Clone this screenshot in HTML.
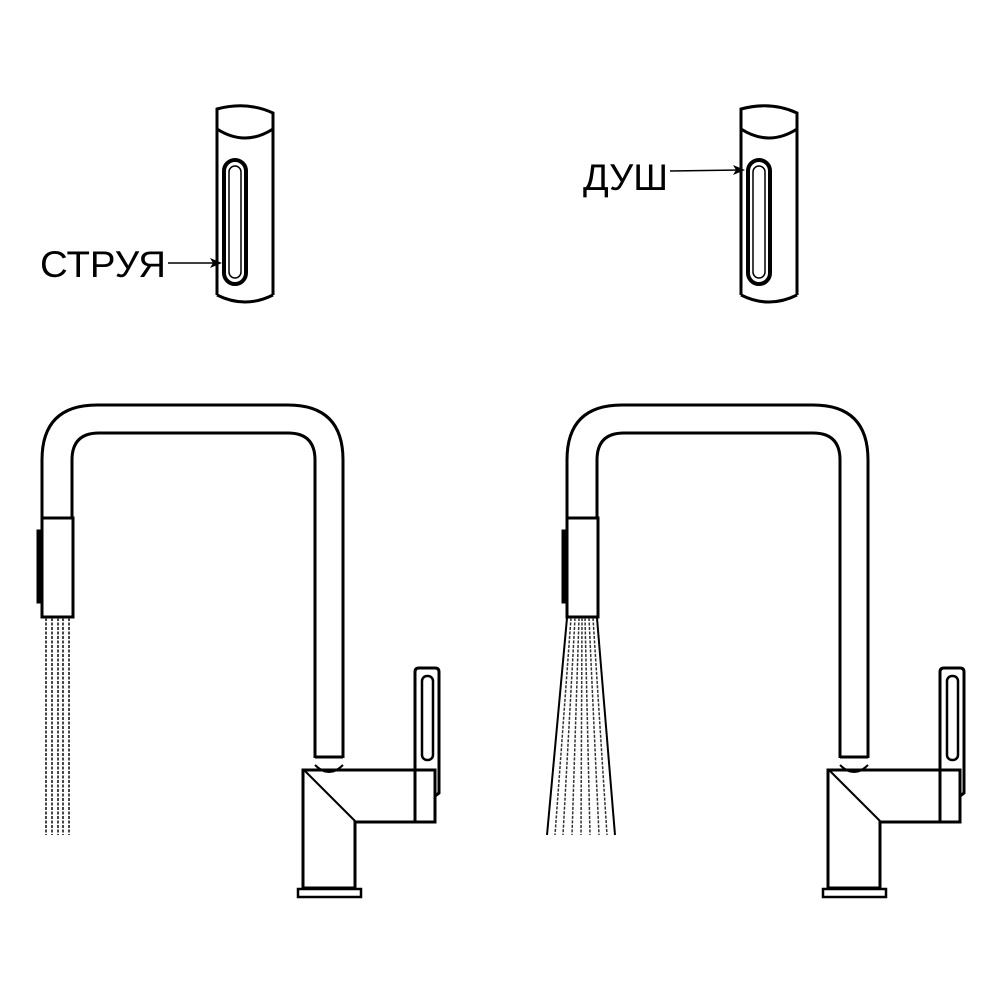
<!DOCTYPE html>
<html><head><meta charset="utf-8"><style>html,body{margin:0;padding:0;background:#fff}svg{display:block}</style></head>
<body>
<svg width="1000" height="1000" viewBox="0 0 1000 1000" xmlns="http://www.w3.org/2000/svg">
<defs>
<g id="faucet" fill="none" stroke="#000" stroke-width="3">
  <path d="M42,518 V460 Q42,405 97,405 H288 Q343,405 343,460 V758"/>
  <path d="M72,518 V460 Q72,433 99,433 H288 Q315,433 315,460 V758"/>
  <line x1="315" y1="757" x2="343" y2="757"/>
  <path d="M315,765 Q329,779 343,765" stroke-width="2"/>
  <rect x="42" y="518" width="31" height="99" fill="#fff"/>
  <rect x="37" y="530" width="5" height="73" fill="#000" stroke-width="1"/>
  <path d="M303,770 H435 V822 H355 V888 H303 Z"/>
  <line x1="305" y1="771" x2="355" y2="821" stroke-width="2"/>
  <rect x="298" y="889" width="63" height="8" stroke-width="2.5"/>
  <path d="M415,822 V672 Q415,668 419,668 H435 Q439,668 439,672 V793 L435,796"/>
  <rect x="422" y="676" width="11" height="84" rx="5" stroke-width="2.5"/>
</g>
<g id="cyl" fill="none" stroke="#000" stroke-width="3">
  <path d="M0,192 V6 Q30,-2 56,10 V192"/>
  <path d="M0,192 Q28,206 56,192"/>
  <path d="M0,26 Q28,44 56,26"/>
  <rect x="7" y="57" width="22" height="124" rx="11" stroke-width="4"/>
  <rect x="12" y="63" width="12" height="112" rx="6" stroke-width="1.5"/>
</g>
</defs>
<use href="#faucet"/>
<use href="#faucet" transform="translate(525,0)"/>
<g stroke="#333" stroke-width="1.8" stroke-dasharray="3,1.5">
  <line x1="46" y1="618" x2="46" y2="835"/>
  <line x1="52" y1="618" x2="52" y2="835"/>
  <line x1="58" y1="618" x2="58" y2="835"/>
  <line x1="63" y1="618" x2="63" y2="835"/>
  <line x1="69" y1="618" x2="69" y2="835"/>
</g>
<g stroke="#333" stroke-width="1.5" stroke-dasharray="3,1.5">
  <line x1="567" y1="618" x2="547" y2="835" stroke="#000" stroke-width="2" stroke-dasharray="none"/>
  <line x1="571" y1="618" x2="555" y2="835"/>
  <line x1="575" y1="618" x2="563" y2="835"/>
  <line x1="579" y1="618" x2="572" y2="835"/>
  <line x1="582" y1="618" x2="581" y2="835"/>
  <line x1="585" y1="618" x2="590" y2="835"/>
  <line x1="589" y1="618" x2="599" y2="835"/>
  <line x1="593" y1="618" x2="607" y2="835"/>
  <line x1="597" y1="618" x2="615" y2="835" stroke="#000" stroke-width="2" stroke-dasharray="none"/>
</g>
<use href="#cyl" transform="translate(217,103)"/>
<use href="#cyl" transform="translate(741,103)"/>
<g font-family="Liberation Sans, sans-serif" font-size="37" fill="#000">
  <text x="40" y="277" textLength="126" lengthAdjust="spacingAndGlyphs">СТРУЯ</text>
  <text x="583" y="190" textLength="85" lengthAdjust="spacingAndGlyphs">ДУШ</text>
</g>
<g stroke="#000" stroke-width="1.5">
  <line x1="168" y1="263" x2="218" y2="263"/>
  <line x1="670" y1="171" x2="740" y2="170"/>
</g>
<path d="M222,263 L210,258 L213,263 L210,268 Z"/>
<path d="M745,170 L733,165 L736,170 L733,175 Z"/>
</svg>
</body></html>
